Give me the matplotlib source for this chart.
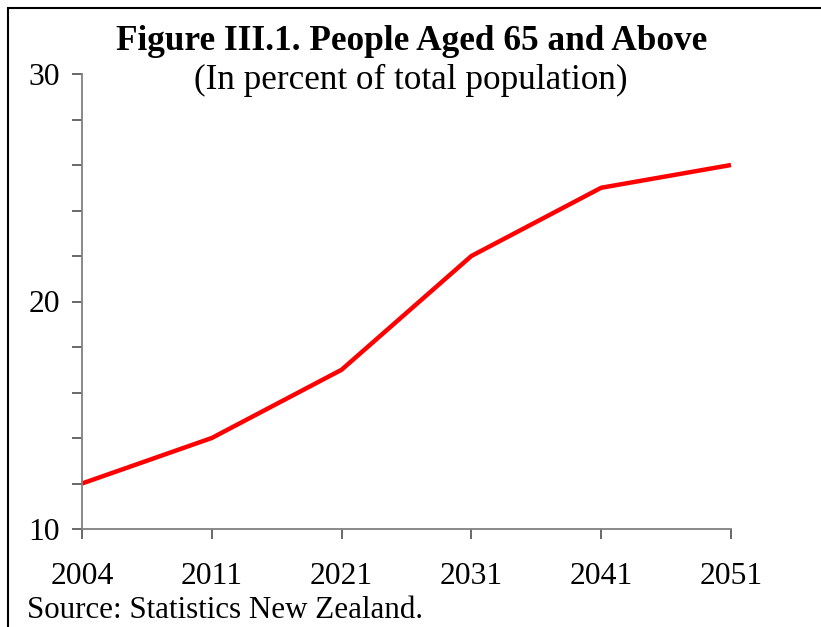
import matplotlib
matplotlib.use("Agg")
import matplotlib.pyplot as plt
from matplotlib.patches import Rectangle
from matplotlib.ticker import MultipleLocator

years = ["2004", "2011", "2021", "2031", "2041", "2051"]
share_65plus = [12.0, 14.0, 17.0, 22.0, 25.0, 26.0]
y_ticks = [10, 20, 30]

plt.rcParams['font.family'] = ['Liberation Serif', 'DejaVu Serif']

W, H = 821, 627
fig = plt.figure(figsize=(W / 100, H / 100), dpi=100)
ax = fig.add_axes([82 / W, 1 - 529 / H, (731 - 82) / W, (529 - 74) / H])

x = list(range(len(years)))
ax.plot(x, share_65plus, color='#ff0000', lw=3.2, solid_capstyle='butt', clip_on=False)

ax.set_xlim(0, len(years) - 1)
ax.set_ylim(10, 30)
ax.set_xticks(x)
ax.set_xticklabels(years)
ax.set_yticks(y_ticks)
ax.yaxis.set_minor_locator(MultipleLocator(2))

for s in ['top', 'right']:
    ax.spines[s].set_visible(False)
for s in ['left', 'bottom']:
    ax.spines[s].set_color('#808080')
    ax.spines[s].set_linewidth(1.3)

ax.tick_params(axis='both', which='both', direction='out', color='#404040', width=1.1,
               labelsize=22.8, labelcolor='black')
ax.tick_params(axis='y', which='major', length=7, pad=9)
ax.tick_params(axis='y', which='minor', length=7)
ax.tick_params(axis='x', which='major', length=7, pad=17)

fig.text(412 / W, 1 - 41 / H, "Figure III.1. People Aged 65 and Above", ha='center', va='center',
         fontsize=25.4, fontweight='bold')
fig.text(411 / W, 1 - 80 / H, "(In percent of total population)", ha='center', va='center',
         fontsize=25.3)
fig.text(27 / W, 1 - 611 / H, "Source: Statistics New Zealand.", ha='left', va='center',
         fontsize=22.3)

fig.patches.append(Rectangle((8 / W, -0.1), 2.0, 1.1 - 8 / H, transform=fig.transFigure,
                             fill=False, edgecolor='black', lw=1.5, figure=fig))

fig.savefig("out.png", dpi=100)
